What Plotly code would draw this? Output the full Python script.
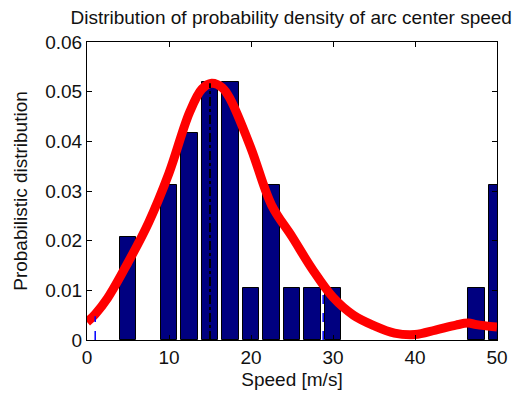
import plotly.graph_objects as go

# Histogram (bin centres, density)
bin_centers = [5, 10, 12.5, 15, 17.5, 20, 22.5, 25, 27.5, 30, 47.5, 50]
bin_density = [0.0208, 0.0312, 0.0416, 0.0520, 0.0520, 0.0104, 0.0312, 0.0104, 0.0104, 0.0104, 0.0104, 0.0312]
bar_width = 2.0

# Fitted density curve
curve_x = [0, 1, 2.5, 5, 7.5, 10, 12.5, 14, 15.2, 16.5, 17.5, 20, 22.5, 25, 27.5, 30, 32.5, 35, 37.5, 40, 42.5, 45, 46.5, 47.5, 50]
curve_y = [0.0036, 0.0052, 0.0084, 0.0156, 0.0236, 0.0336, 0.0458, 0.0505, 0.0517, 0.0508, 0.0484, 0.0386, 0.0272, 0.0208, 0.0142, 0.0086, 0.0050, 0.0029, 0.0014, 0.0011, 0.0020, 0.0030, 0.0034, 0.0031, 0.0026]

# Marker lines
mode_x = 15.0
mode_y = 0.0517
bound_x = [1.0, 28.8]
bound_y = [0.0048, 0.0108]

fig = go.Figure()
fig.add_trace(go.Bar(x=bin_centers, y=bin_density, width=bar_width,
                     marker=dict(color="#000080", line=dict(color="black", width=1))))
fig.add_trace(go.Scatter(x=curve_x, y=curve_y, mode="lines",
                         line=dict(color="#ff0000", width=9, shape="spline", smoothing=1.0)))
fig.add_trace(go.Scatter(x=[mode_x, mode_x], y=[0, mode_y], mode="lines",
                         line=dict(color="black", width=2, dash="dashdot")))
for bx, by in zip(bound_x, bound_y):
    fig.add_trace(go.Scatter(x=[bx, bx], y=[0, by], mode="lines",
                             line=dict(color="#0000ff", width=1.5, dash="dash")))

font = "Liberation Sans, Arial, sans-serif"
fig.update_layout(
    width=520, height=398,
    margin=dict(l=87, r=19, t=42, b=56),
    paper_bgcolor="white", plot_bgcolor="white",
    showlegend=False,
    bargap=0,
    font=dict(family=font, size=19, color="#111111"),
    title=dict(text="Distribution of probability density of arc center speed",
               x=0.56, xanchor="center", y=0.957, yanchor="middle",
               font=dict(size=19, family=font, color="#111111")),
)
fig.update_xaxes(range=[0, 50], tickvals=[0, 10, 20, 30, 40, 50],
                 ticks="inside", ticklen=5, tickcolor="black",
                 showline=True, linecolor="black", linewidth=1, mirror="ticks",
                 showgrid=False, zeroline=False,
                 title=dict(text="Speed [m/s]", standoff=5, font=dict(size=19)))
fig.update_yaxes(range=[0, 0.06], tickvals=[0, 0.01, 0.02, 0.03, 0.04, 0.05, 0.06],
                 ticktext=["0", "0.01", "0.02", "0.03", "0.04", "0.05", "0.06"],
                 ticks="inside", ticklen=5, tickcolor="black",
                 showline=True, linecolor="black", linewidth=1, mirror="ticks",
                 showgrid=False, zeroline=False,
                 title=dict(text="Probabilistic distribution", standoff=12, font=dict(size=19)))

fig.write_html("out.html")
